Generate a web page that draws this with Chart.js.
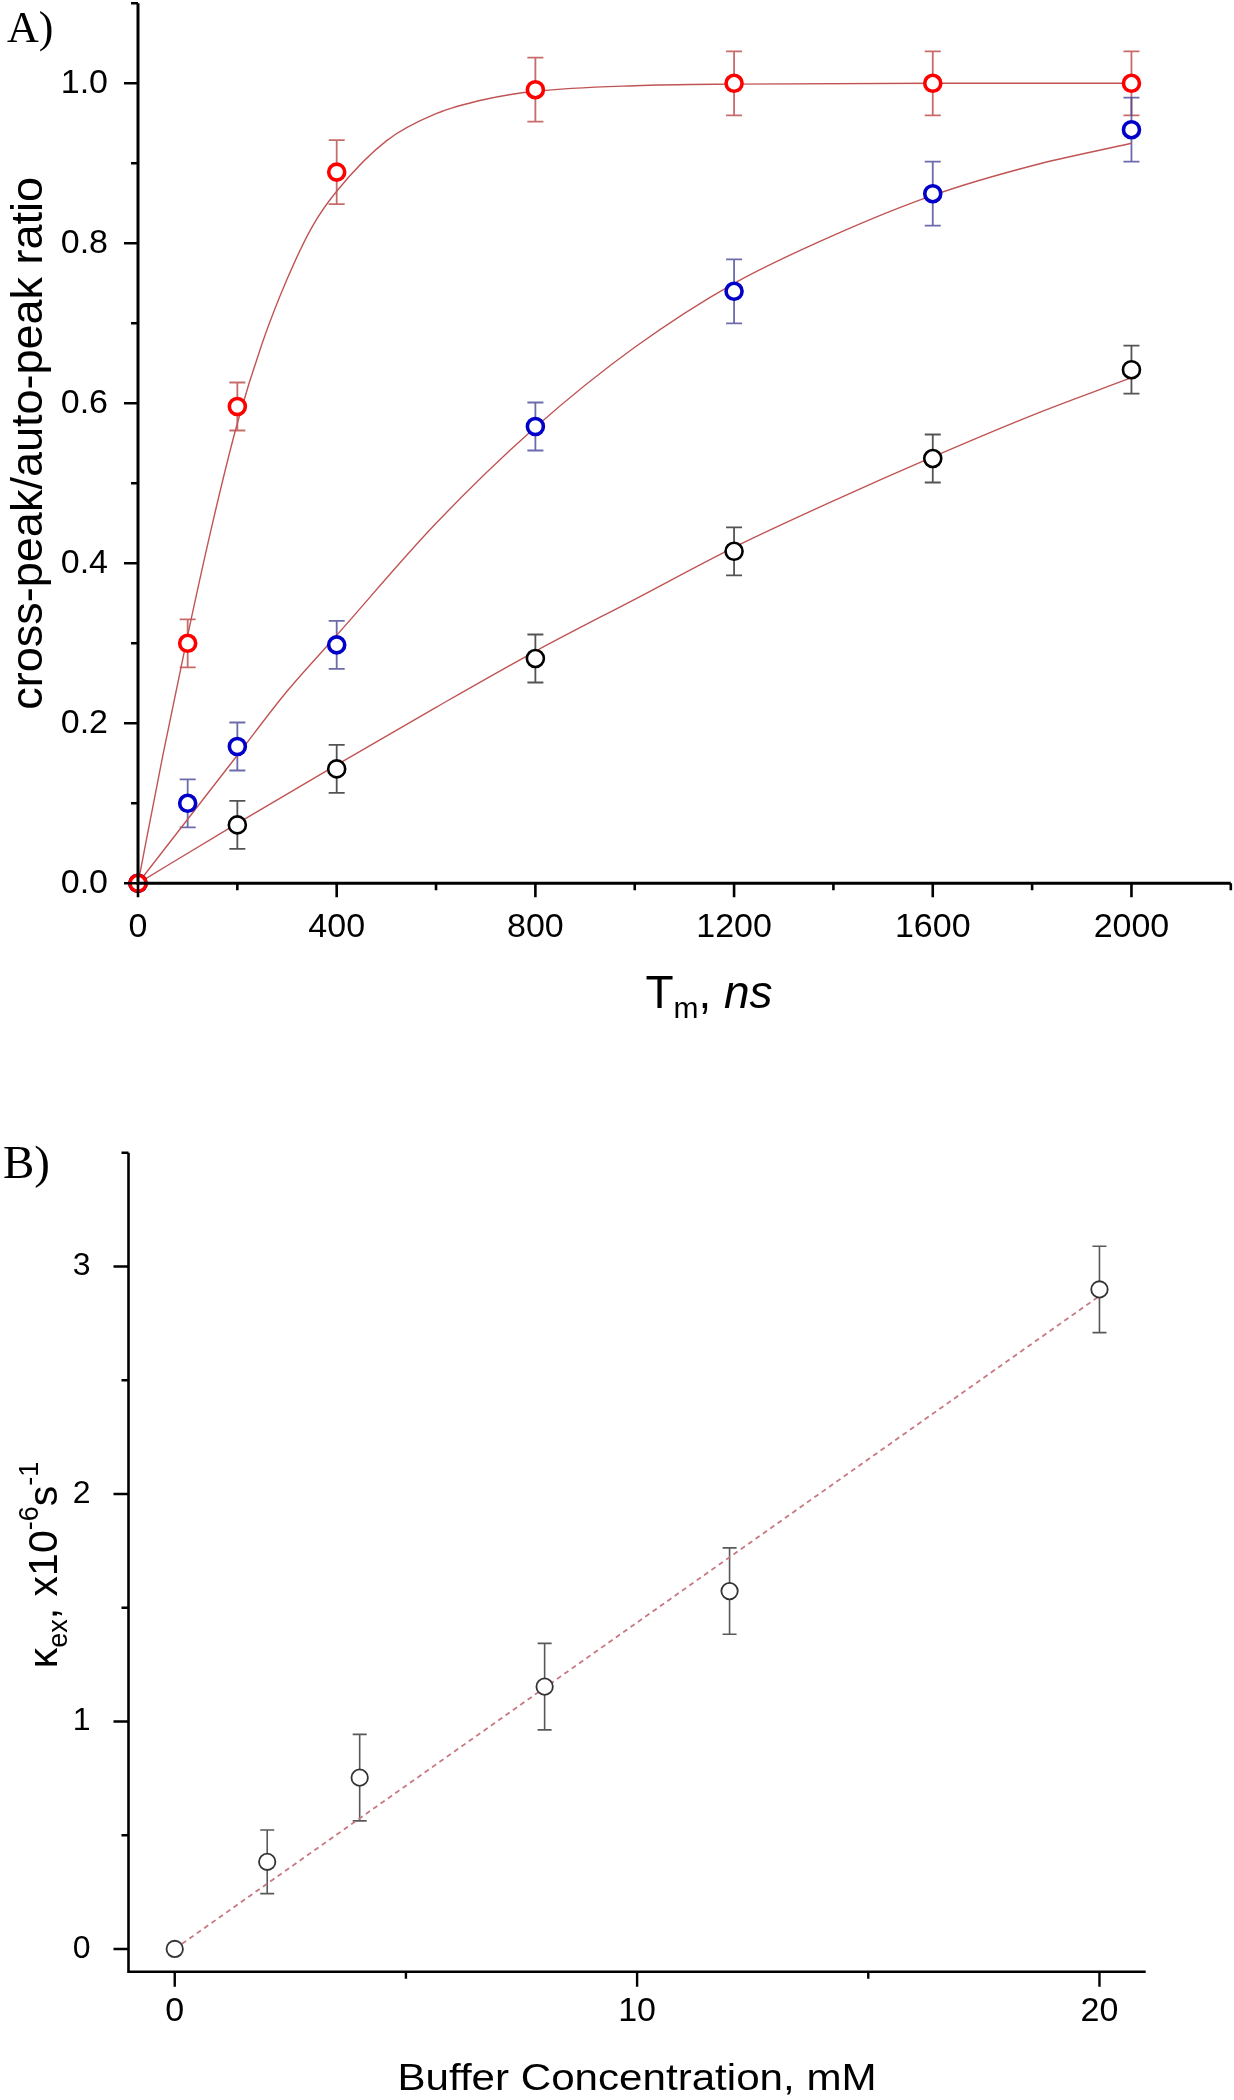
<!DOCTYPE html>
<html><head><meta charset="utf-8">
<script src="https://cdn.jsdelivr.net/npm/chart.js@4.4.1/dist/chart.umd.min.js"></script>
<style>
html,body{margin:0;padding:0;background:#fff;}
#wrap{position:relative;width:1234px;height:2100px;overflow:hidden;background:#fff;}
canvas{position:absolute;left:0;}
#cA{top:0;width:1234px;height:1060px;}
#cB{top:1100px;width:1234px;height:1000px;}
</style></head><body>
<div id="wrap"><canvas id="cA" width="1234" height="1060"></canvas><canvas id="cB" width="1234" height="1000"></canvas></div>
<script>
// ---------- Panel A data ----------
const tmRed = [0, 100, 200, 400, 800, 1200, 1600, 2000];
const ratioRed = [0, 0.300, 0.596, 0.889, 0.992, 1.000, 1.000, 1.000];
const errRed = [0, 0.030, 0.030, 0.040, 0.040, 0.040, 0.040, 0.040];
const tmBlue = [0, 100, 200, 400, 800, 1200, 1600, 2000];
const ratioBlue = [0, 0.100, 0.171, 0.298, 0.571, 0.740, 0.862, 0.942];
const errBlue = [0, 0.030, 0.030, 0.030, 0.030, 0.040, 0.040, 0.040];
const tmBlack = [0, 200, 400, 800, 1200, 1600, 2000];
const ratioBlack = [0, 0.073, 0.143, 0.281, 0.415, 0.531, 0.642];
const errBlack = [0, 0.030, 0.030, 0.030, 0.030, 0.030, 0.030];
// fitted curves
const fitRedX = [0, 50, 100, 150, 200, 250, 300, 350, 400, 500, 600, 700, 800, 1000, 1200, 1600, 2000];
const fitRedY = [0, 0.16, 0.31, 0.45, 0.575, 0.675, 0.755, 0.82, 0.865, 0.928, 0.962, 0.98, 0.99, 0.997, 0.999, 1.0, 1.0];
const fitBlueX = [0, 100, 200, 300, 400, 600, 800, 1000, 1200, 1400, 1600, 1800, 2000];
const fitBlueY = [0, 0.08, 0.16, 0.24, 0.31, 0.45, 0.57, 0.67, 0.75, 0.81, 0.86, 0.897, 0.925];
const fitBlackX = [0, 200, 400, 600, 800, 1000, 1200, 1400, 1600, 1800, 2000];
const fitBlackY = [0, 0.075, 0.148, 0.22, 0.29, 0.355, 0.42, 0.478, 0.533, 0.585, 0.632];
// ticks A
const xMajorA = [0, 400, 800, 1200, 1600, 2000];
const xLabelsA = ['0', '400', '800', '1200', '1600', '2000'];
const xMinorA = [200, 600, 1000, 1400, 1800, 2200];
const yMajorA = [0, 0.2, 0.4, 0.6, 0.8, 1.0];
const yLabelsA = ['0.0', '0.2', '0.4', '0.6', '0.8', '1.0'];
const yMinorA = [0.1, 0.3, 0.5, 0.7, 0.9, 1.1];

// ---------- Panel B data ----------
const bufferConc = [0, 2, 4, 8, 12, 20];
const kexValues = [0, 0.383, 0.753, 1.153, 1.573, 2.899];
const kexErr = [0, 0.14, 0.19, 0.19, 0.19, 0.19];
const fitBufX = [0, 20];
const fitKexY = [0, 2.87];
const xMajorB = [0, 10, 20];
const xLabelsB = ['0', '10', '20'];
const xMinorB = [5, 15];
const yMajorB = [0, 1, 2, 3];
const yLabelsB = ['0', '1', '2', '3'];
const yMinorB = [0.5, 1.5, 2.5, 3.5];

const SANS = '"Liberation Sans", Arial, Helvetica, sans-serif';
const SERIF = '"Liberation Serif", "Times New Roman", serif';
Chart.defaults.font.family = SANS;
Chart.defaults.color = '#000';

function pts(xs, ys) { return xs.map((x, i) => ({ x: x, y: ys[i] })); }

const errorBarPlugin = {
  id: 'errorBars',
  beforeDatasetsDraw(chart) {
    const ctx = chart.ctx, xs = chart.scales.x, ys = chart.scales.y;
    chart.data.datasets.forEach(ds => {
      if (!ds.errors) return;
      ctx.save();
      ctx.strokeStyle = ds.errColor; ctx.lineWidth = ds.errWidth; ctx.lineCap = 'butt';
      ds.data.forEach((p, i) => {
        const e = ds.errors[i];
        if (!e) return;
        const px = xs.getPixelForValue(p.x);
        const yt = ys.getPixelForValue(p.y + e), yb = ys.getPixelForValue(p.y - e);
        const c = ds.capHalf;
        ctx.beginPath();
        ctx.moveTo(px, yt); ctx.lineTo(px, yb);
        ctx.moveTo(px - c, yt); ctx.lineTo(px + c, yt);
        ctx.moveTo(px - c, yb); ctx.lineTo(px + c, yb);
        ctx.stroke();
      });
      ctx.restore();
    });
  }
};

const axesPlugin = {
  id: 'axesDraw',
  afterDatasetsDraw(chart, args, o) {
    const ctx = chart.ctx, xs = chart.scales.x, ys = chart.scales.y, ca = chart.chartArea;
    ctx.save();
    ctx.strokeStyle = '#000'; ctx.lineCap = 'butt';
    ctx.lineWidth = o.axisWidth;
    ctx.beginPath();
    ctx.moveTo(ca.left, ca.top); ctx.lineTo(ca.left, ca.bottom + o.axisWidth / 2);
    ctx.moveTo(ca.left - o.axisWidth / 2, ca.bottom); ctx.lineTo(ca.right, ca.bottom);
    ctx.stroke();
    ctx.lineWidth = o.tickWidth;
    ctx.beginPath();
    o.xMajor.forEach(v => { const p = xs.getPixelForValue(v); ctx.moveTo(p, ca.bottom); ctx.lineTo(p, ca.bottom + o.majorLen); });
    o.xMinor.forEach(v => { const p = xs.getPixelForValue(v); ctx.moveTo(p, ca.bottom); ctx.lineTo(p, ca.bottom + o.minorLen); });
    o.yMajor.forEach(v => { const p = ys.getPixelForValue(v); ctx.moveTo(ca.left, p); ctx.lineTo(ca.left - o.majorLen, p); });
    o.yMinor.forEach(v => { const p = ys.getPixelForValue(v); ctx.moveTo(ca.left, p); ctx.lineTo(ca.left - o.minorLen, p); });
    ctx.stroke();
    ctx.restore();
  }
};

function drawRich(ctx, segs, cx, cy, rot, sx) {
  ctx.save();
  ctx.translate(cx, cy);
  if (rot) ctx.rotate(rot);
  if (sx) ctx.scale(sx, 1);
  let total = 0;
  segs.forEach(s => { ctx.font = s.font; s.w = ctx.measureText(s.text).width; total += s.w; });
  let x = -total / 2;
  ctx.textBaseline = 'alphabetic'; ctx.textAlign = 'left'; ctx.fillStyle = '#000';
  segs.forEach(s => { ctx.font = s.font; ctx.fillText(s.text, x, s.dy || 0); x += s.w; });
  ctx.restore();
}

function makeTicks(major, minor) {
  return function (scale) {
    scale.ticks = major.concat(minor).sort((a, b) => a - b).map(v => ({ value: v }));
  };
}
function labelFn(major, labels) {
  return function (value) { const i = major.indexOf(value); return i >= 0 ? labels[i] : ''; };
}
function fixSize(prop, val) {
  return function (s) {
    s[prop] = val;
    s.paddingTop = 0; s.paddingBottom = 0; s.paddingLeft = 0; s.paddingRight = 0;
  };
}

// ---------- Chart A ----------
const titlesA = {
  id: 'titlesA',
  afterDraw(chart) {
    const ctx = chart.ctx;
    ctx.save();
    ctx.fillStyle = '#000'; ctx.textAlign = 'left'; ctx.textBaseline = 'alphabetic';
    ctx.font = '44px ' + SERIF;
    ctx.fillText('A)', 7, 42);
    ctx.restore();
    drawRich(ctx, [{ text: 'cross-peak/auto-peak ratio', font: '45px ' + SANS }], 42, 443.3, -Math.PI / 2);
    drawRich(ctx, [
      { text: 'T', font: '46px ' + SANS },
      { text: 'm', font: '30px ' + SANS, dy: 10 },
      { text: ', ', font: '46px ' + SANS },
      { text: 'ns', font: 'italic 46px ' + SANS }
    ], 709, 1008);
  }
};

const FIT_COLOR = 'rgb(192,84,84)';

new Chart(document.getElementById('cA'), {
  type: 'scatter',
  data: {
    datasets: [
      { label: 'red', data: pts(tmRed, ratioRed), errors: errRed, errColor: 'rgba(185,70,70,0.8)', errWidth: 1.8, capHalf: 8,
        showLine: false, pointRadius: 8, pointBorderWidth: 3.6, pointBorderColor: '#ff0000', pointBackgroundColor: '#ffffff', order: 0, clip: false },
      { label: 'blue', data: pts(tmBlue, ratioBlue), errors: errBlue, errColor: 'rgba(70,70,150,0.8)', errWidth: 1.8, capHalf: 8,
        showLine: false, pointRadius: 8, pointBorderWidth: 3.6, pointBorderColor: '#0000c8', pointBackgroundColor: '#ffffff', order: 1, clip: false },
      { label: 'black', data: pts(tmBlack, ratioBlack), errors: errBlack, errColor: 'rgba(40,40,40,0.8)', errWidth: 1.8, capHalf: 8,
        showLine: false, pointRadius: 8.5, pointBorderWidth: 2.6, pointBorderColor: '#000000', pointBackgroundColor: '#ffffff', order: 2, clip: false },
      { label: 'fit red', data: pts(fitRedX, fitRedY), showLine: true, pointRadius: 0, borderColor: FIT_COLOR, borderWidth: 1.4,
        cubicInterpolationMode: 'monotone', fill: false, order: 10, clip: false },
      { label: 'fit blue', data: pts(fitBlueX, fitBlueY), showLine: true, pointRadius: 0, borderColor: FIT_COLOR, borderWidth: 1.4,
        cubicInterpolationMode: 'monotone', fill: false, order: 10, clip: false },
      { label: 'fit black', data: pts(fitBlackX, fitBlackY), showLine: true, pointRadius: 0, borderColor: FIT_COLOR, borderWidth: 1.4,
        cubicInterpolationMode: 'monotone', fill: false, order: 10, clip: false }
    ]
  },
  options: {
    responsive: false, animation: false, devicePixelRatio: 1,
    layout: { autoPadding: false, padding: { left: 0, top: 3.3, right: 3.2, bottom: 0 } },
    plugins: {
      legend: { display: false }, tooltip: { enabled: false },
      axesDraw: { axisWidth: 3, tickWidth: 2.6, majorLen: 14, minorLen: 7, xMajor: xMajorA, xMinor: xMinorA, yMajor: yMajorA, yMinor: yMinorA }
    },
    scales: {
      x: {
        type: 'linear', min: 0, max: 2200,
        afterBuildTicks: makeTicks(xMajorA, xMinorA),
        afterFit: fixSize('height', 176.7),
        grid: { display: false, drawTicks: true, tickLength: 14 },
        border: { display: false },
        ticks: { autoSkip: false, maxRotation: 0, padding: 10, color: '#000', font: { size: 34, family: SANS }, callback: labelFn(xMajorA, xLabelsA) }
      },
      y: {
        type: 'linear', min: 0, max: 1.1,
        afterBuildTicks: makeTicks(yMajorA, yMinorA),
        afterFit: fixSize('width', 138),
        grid: { display: false, drawTicks: true, tickLength: 14 },
        border: { display: false },
        ticks: { autoSkip: false, padding: 16, color: '#000', font: { size: 34, family: SANS }, callback: labelFn(yMajorA, yLabelsA) }
      }
    }
  },
  plugins: [errorBarPlugin, axesPlugin, titlesA]
});

// ---------- Chart B ----------
const titlesB = {
  id: 'titlesB',
  afterDraw(chart) {
    const ctx = chart.ctx;
    ctx.save();
    ctx.fillStyle = '#000'; ctx.textAlign = 'left'; ctx.textBaseline = 'alphabetic';
    ctx.font = '47px ' + SERIF;
    ctx.fillText('B)', 3, 78);
    ctx.restore();
    drawRich(ctx, [
      { text: 'κ', font: '41px ' + SANS },
      { text: 'ex', font: '27px ' + SANS, dy: 10 },
      { text: ', x10', font: '41px ' + SANS },
      { text: '-6', font: '27px ' + SANS, dy: -19 },
      { text: 's', font: '41px ' + SANS },
      { text: '-1', font: '27px ' + SANS, dy: -19 }
    ], 57, 465, -Math.PI / 2);
    drawRich(ctx, [{ text: 'Buffer Concentration, mM', font: '36px ' + SANS }], 637, 990, 0, 1.17);
  }
};

new Chart(document.getElementById('cB'), {
  type: 'scatter',
  data: {
    datasets: [
      { label: 'kex', data: pts(bufferConc, kexValues), errors: kexErr, errColor: 'rgba(60,60,60,0.85)', errWidth: 1.6, capHalf: 7,
        showLine: false, pointRadius: 8.2, pointBorderWidth: 1.8, pointBorderColor: '#333333', pointBackgroundColor: '#ffffff', order: 0, clip: false },
      { label: 'fit', data: pts(fitBufX, fitKexY), showLine: true, pointRadius: 0, borderColor: 'rgb(200,120,130)', borderWidth: 1.8,
        borderDash: [5, 4], fill: false, order: 10, clip: false }
    ]
  },
  options: {
    responsive: false, animation: false, devicePixelRatio: 1,
    layout: { autoPadding: false, padding: { left: 0, top: 52.7, right: 88.3, bottom: 0 } },
    plugins: {
      legend: { display: false }, tooltip: { enabled: false },
      axesDraw: { axisWidth: 2.6, tickWidth: 2.4, majorLen: 15, minorLen: 7, xMajor: xMajorB, xMinor: xMinorB, yMajor: yMajorB, yMinor: yMinorB }
    },
    scales: {
      x: {
        type: 'linear', min: -1, max: 21,
        afterBuildTicks: makeTicks(xMajorB, xMinorB),
        afterFit: fixSize('height', 128.3),
        grid: { display: false, drawTicks: true, tickLength: 15 },
        border: { display: false },
        ticks: { autoSkip: false, maxRotation: 0, padding: 5, color: '#000', font: { size: 34, family: SANS }, callback: labelFn(xMajorB, xLabelsB) }
      },
      y: {
        type: 'linear', min: -0.1, max: 3.5,
        afterBuildTicks: makeTicks(yMajorB, yMinorB),
        afterFit: fixSize('width', 128.5),
        grid: { display: false, drawTicks: true, tickLength: 15 },
        border: { display: false },
        ticks: { autoSkip: false, padding: 23, color: '#000', font: { size: 32, family: SANS }, callback: labelFn(yMajorB, yLabelsB) }
      }
    }
  },
  plugins: [errorBarPlugin, axesPlugin, titlesB]
});
</script></body></html>
